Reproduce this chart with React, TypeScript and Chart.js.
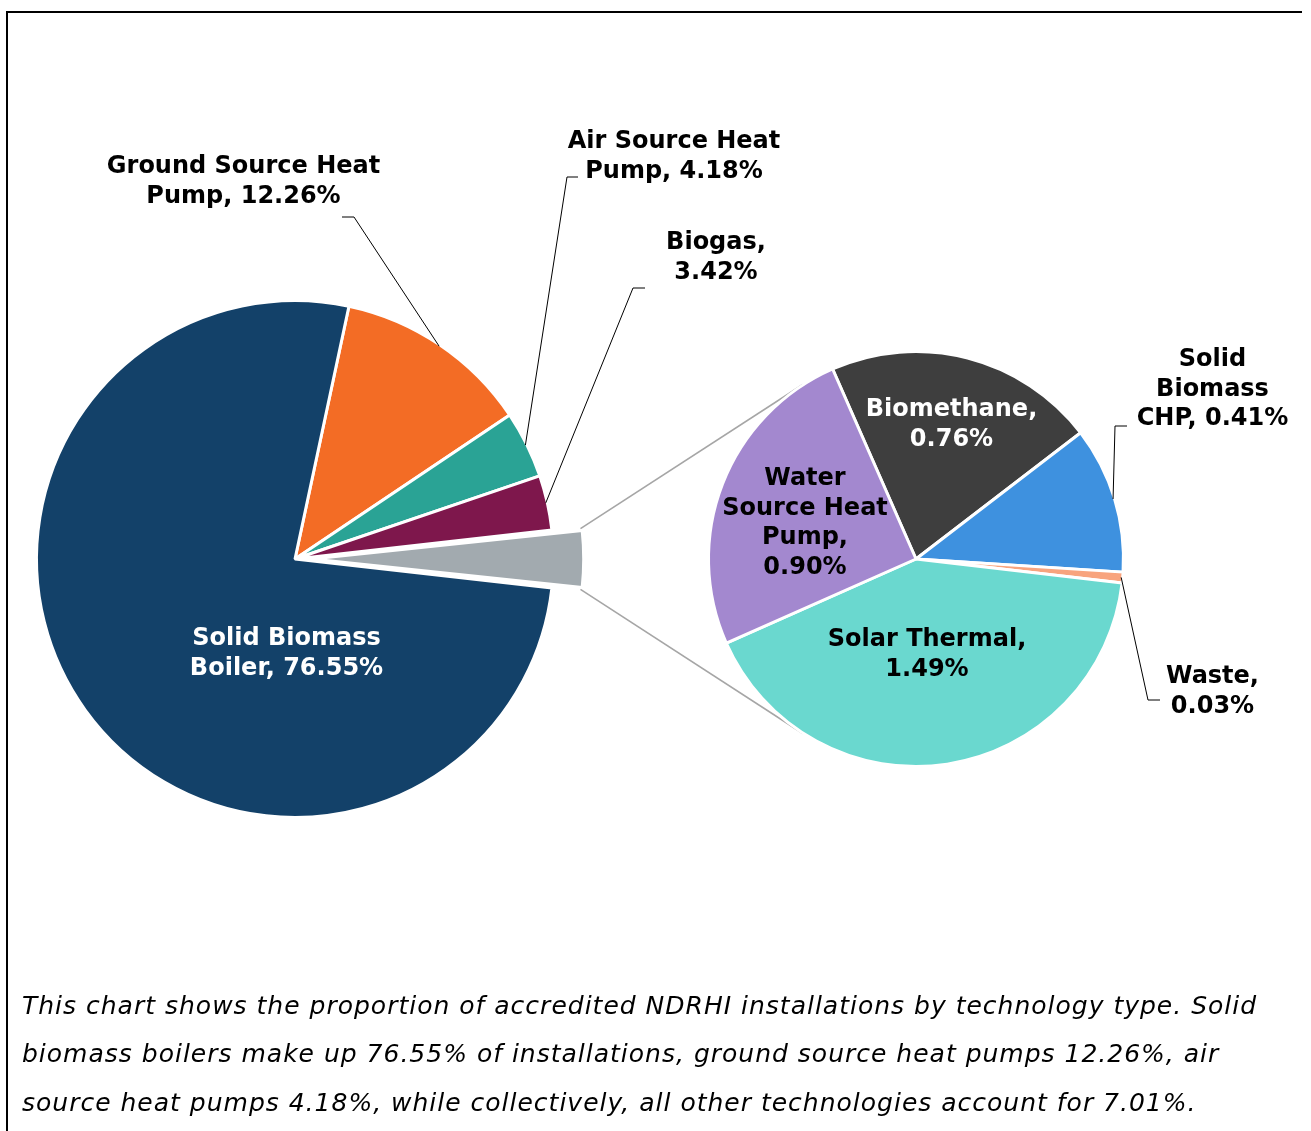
import React, { useEffect, useRef } from "react";
import { Chart, registerables } from "chart.js";

Chart.register(...registerables);

// ---------------- data ----------------
const mainCategories = ["Ground Source Heat Pump", "Air Source Heat Pump", "Biogas", "Other", "Solid Biomass Boiler"];
const mainValues = [12.26, 4.18, 3.42, 3.59, 76.55];

const subCategories = ["Biomethane", "Solid Biomass CHP", "Waste", "Solar Thermal", "Water Source Heat Pump"];
const subValues = [0.76, 0.41, 0.03, 1.49, 0.9];

const captionLines = [
  "This chart shows the proportion of accredited NDRHI installations by technology type. Solid",
  "biomass boilers make up 76.55% of installations, ground source heat pumps 12.26%, air",
  "source heat pumps 4.18%, while collectively, all other technologies account for 7.01%.",
];

// ---------------- styles / layout ----------------
const W = 1311;
const H = 1131;
const MAIN = { cx: 295, cy: 559, r: 258.5 };
const SUB = { cx: 916, cy: 559, r: 207.5 };
const BORDER_W = 3;
const mainColors = ["#F36C25", "#2AA395", "#7E174C", "#A2AAAF", "#134169"];
const subColors = ["#3E3E3E", "#3E91DF", "#F8A47E", "#6AD8CF", "#A388CF"];
const EXPLODE_INDEX = 3;
const EXPLODE_OFFSET = 68; // Chart.js applies offset / 4
const SUB_ROTATION = -23.7;
const LABEL_FONT = 'bold 24px "DejaVu Sans", Verdana, sans-serif';
const LINE_H = 29.5;
const CONNECTOR_COLOR = "#A6A6A6";

type LabelSpec = {
  index: number;
  words: number[];
  x: number;
  y: number;
  color: string;
  leader?: [number, number][];
};

const mainLabelSpecs: LabelSpec[] = [
  { index: 0, words: [3, 2], x: 243.5, y: 167, color: "#000", leader: [[342, 217], [354, 217]] },
  { index: 1, words: [3, 2], x: 674, y: 142, color: "#000", leader: [[578, 177], [567, 177]] },
  { index: 2, words: [1, 1], x: 716, y: 243, color: "#000", leader: [[645, 288], [633, 288]] },
  { index: 4, words: [2, 2], x: 286.5, y: 639, color: "#fff" },
];

const subLabelSpecs: LabelSpec[] = [
  { index: 0, words: [1, 1], x: 951.5, y: 410, color: "#fff" },
  { index: 1, words: [1, 1, 2], x: 1212.5, y: 360, color: "#000", leader: [[1127, 426], [1115, 426]] },
  { index: 2, words: [1, 1], x: 1212.5, y: 677, color: "#000", leader: [[1160, 700], [1148, 700]] },
  { index: 3, words: [2, 1], x: 927, y: 640, color: "#000" },
  { index: 4, words: [1, 2, 1, 1], x: 805, y: 479, color: "#000" },
];

function labelLines(cat: string, val: number, words: number[]): string[] {
  const parts = `${cat}, ${val.toFixed(2)}%`.split(" ");
  const out: string[] = [];
  let k = 0;
  for (const n of words) {
    out.push(parts.slice(k, k + n).join(" "));
    k += n;
  }
  return out;
}

function drawLabels(chart: any, specs: LabelSpec[], cats: string[], vals: number[]) {
  const ctx: CanvasRenderingContext2D = chart.ctx;
  const meta = chart.getDatasetMeta(0);
  ctx.save();
  for (const s of specs) {
    const arc: any = meta.data[s.index];
    if (s.leader) {
      const p = arc.getProps(["x", "y", "startAngle", "endAngle", "outerRadius"], true);
      const mid = (p.startAngle + p.endAngle) / 2;
      const rr = p.outerRadius - BORDER_W / 2;
      const ex = p.x + Math.cos(mid) * rr;
      const ey = p.y + Math.sin(mid) * rr;
      ctx.beginPath();
      ctx.strokeStyle = "#000";
      ctx.lineWidth = 1;
      ctx.moveTo(s.leader[0][0], s.leader[0][1]);
      for (let i = 1; i < s.leader.length; i++) ctx.lineTo(s.leader[i][0], s.leader[i][1]);
      ctx.lineTo(ex, ey);
      ctx.stroke();
    }
    ctx.font = LABEL_FONT;
    ctx.fillStyle = s.color;
    ctx.textAlign = "center";
    ctx.textBaseline = "middle";
    const lines = labelLines(cats[s.index], vals[s.index], s.words);
    lines.forEach((ln, i) => ctx.fillText(ln, s.x, s.y + i * LINE_H));
  }
  ctx.restore();
}

export default function App() {
  const mainRef = useRef<HTMLCanvasElement | null>(null);
  const subRef = useRef<HTMLCanvasElement | null>(null);

  useEffect(() => {
    if (!mainRef.current || !subRef.current) return;
    const mainTotal = mainValues.reduce((a, b) => a + b, 0);
    const before = mainValues.slice(0, EXPLODE_INDEX).reduce((a, b) => a + b, 0);
    const mainRotation = 90 - (360 * (before + mainValues[EXPLODE_INDEX] / 2)) / mainTotal;

    const mainChart = new Chart(mainRef.current, {
      type: "pie",
      data: {
        labels: mainCategories,
        datasets: [
          {
            data: mainValues,
            backgroundColor: mainColors,
            borderColor: "#ffffff",
            borderWidth: BORDER_W,
            offset: mainValues.map((_, i) => (i === EXPLODE_INDEX ? EXPLODE_OFFSET : 0)),
          },
        ],
      },
      options: {
        responsive: false,
        maintainAspectRatio: false,
        animation: false,
        devicePixelRatio: 1,
        rotation: mainRotation,
        radius: MAIN.r,
        layout: {
          padding: { left: 0, top: 0, right: W - 2 * MAIN.cx, bottom: H - 2 * MAIN.cy },
        },
        plugins: { legend: { display: false }, tooltip: { enabled: false } },
      },
      plugins: [
        {
          id: "mainLabels",
          afterDatasetsDraw(chart: any) {
            drawLabels(chart, mainLabelSpecs, mainCategories, mainValues);
          },
        },
      ],
    } as any);

    const subChart = new Chart(subRef.current, {
      type: "pie",
      data: {
        labels: subCategories,
        datasets: [
          {
            data: subValues,
            backgroundColor: subColors,
            borderColor: "#ffffff",
            borderWidth: BORDER_W,
          },
        ],
      },
      options: {
        responsive: false,
        maintainAspectRatio: false,
        animation: false,
        devicePixelRatio: 1,
        rotation: SUB_ROTATION,
        radius: SUB.r,
        layout: {
          padding: { left: 2 * SUB.cx - W, top: 0, right: 0, bottom: H - 2 * SUB.cy },
        },
        plugins: { legend: { display: false }, tooltip: { enabled: false } },
      },
      plugins: [
        {
          id: "connectors",
          beforeDatasetsDraw(chart: any) {
            const ctx: CanvasRenderingContext2D = chart.ctx;
            const mArc: any = mainChart.getDatasetMeta(0).data[EXPLODE_INDEX];
            const sArc: any = chart.getDatasetMeta(0).data[0];
            if (!mArc || !sArc) return;
            const p = mArc.getProps(["x", "y", "startAngle", "endAngle", "outerRadius"], true);
            const off = (mArc.options.offset || 0) / 4;
            const mid = (p.startAngle + p.endAngle) / 2;
            const circ = p.endAngle - p.startAngle;
            const rr = p.outerRadius + off * (1 - Math.sin(Math.min(Math.PI, circ))) - BORDER_W / 2;
            const ox = p.x + Math.cos(mid) * off;
            const oy = p.y + Math.sin(mid) * off;
            const corners = [
              [ox + Math.cos(p.startAngle) * rr, oy + Math.sin(p.startAngle) * rr, 1],
              [ox + Math.cos(p.endAngle) * rr, oy + Math.sin(p.endAngle) * rr, -1],
            ];
            const s = sArc.getProps(["x", "y", "outerRadius"], true);
            const sr = s.outerRadius + 0.5;
            ctx.save();
            ctx.strokeStyle = CONNECTOR_COLOR;
            ctx.lineWidth = 1.6;
            for (const [cx, cy, sign] of corners) {
              const dx = cx - s.x;
              const dy = cy - s.y;
              const d = Math.sqrt(dx * dx + dy * dy);
              const th = Math.atan2(dy, dx);
              const al = Math.acos(Math.min(1, sr / d));
              const a = th + sign * al;
              ctx.beginPath();
              ctx.moveTo(cx, cy);
              ctx.lineTo(s.x + Math.cos(a) * sr, s.y + Math.sin(a) * sr);
              ctx.stroke();
            }
            ctx.restore();
          },
          afterDatasetsDraw(chart: any) {
            drawLabels(chart, subLabelSpecs, subCategories, subValues);
          },
        },
      ],
    } as any);

    return () => {
      subChart.destroy();
      mainChart.destroy();
    };
  }, []);

  const captionFont = '"DejaVu Sans", Verdana, sans-serif';
  const captionTops = [982, 1030, 1079];

  return (
    <div
      style={{
        position: "absolute",
        left: 0,
        top: 0,
        width: W,
        height: H,
        overflow: "hidden",
        background: "#fff",
      }}
    >
      <div
        style={{
          position: "absolute",
          left: 6,
          top: 11,
          width: 1296,
          height: H - 11,
          boxSizing: "border-box",
          borderLeft: "2px solid #000",
          borderTop: "2px solid #000",
        }}
      />
      <canvas
        ref={mainRef}
        width={W}
        height={H}
        style={{ position: "absolute", left: 0, top: 0, width: W, height: H, display: "block" }}
      />
      <canvas
        ref={subRef}
        width={W}
        height={H}
        style={{ position: "absolute", left: 0, top: 0, width: W, height: H, display: "block" }}
      />
      {captionLines.map((ln, i) => (
        <div
          key={i}
          style={{
            position: "absolute",
            left: 22,
            top: captionTops[i],
            whiteSpace: "nowrap",
            fontFamily: captionFont,
            fontStyle: "italic",
            fontSize: 25,
            letterSpacing: "1px",
            lineHeight: "48px",
            color: "#000",
          }}
        >
          {ln}
        </div>
      ))}
    </div>
  );
}
